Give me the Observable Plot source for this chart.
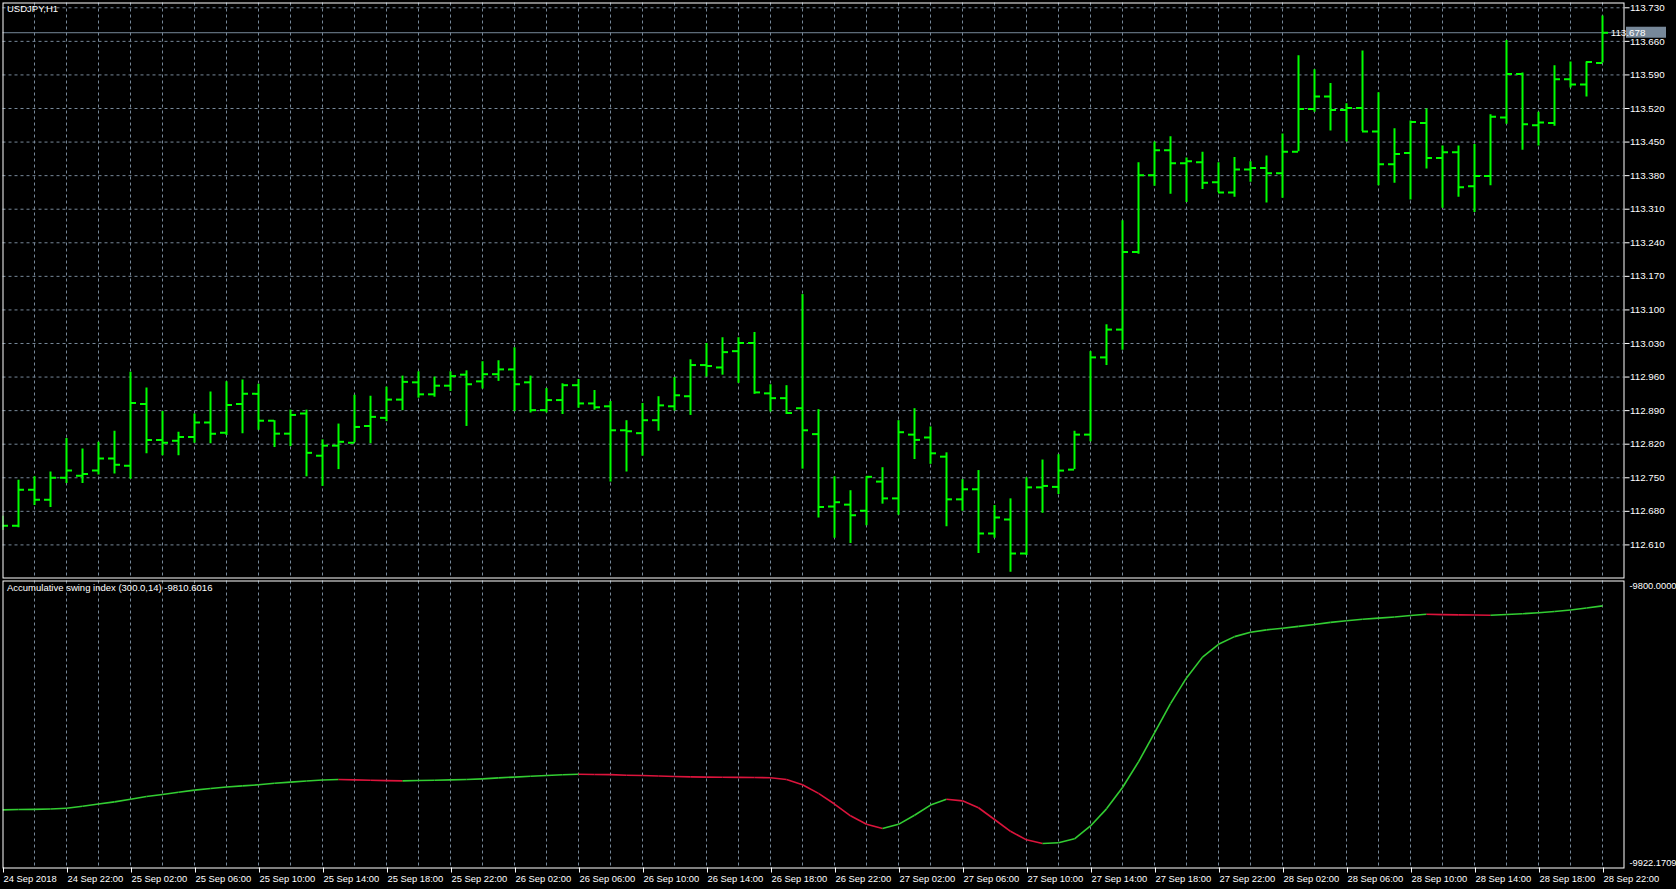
<!DOCTYPE html>
<html><head><meta charset="utf-8">
<script src="https://cdn.jsdelivr.net/npm/d3@7"></script>
<script src="https://cdn.jsdelivr.net/npm/@observablehq/plot@0.6"></script>
<style>
html,body{margin:0;padding:0;background:#000;overflow:hidden;}
#wrap{position:relative;width:1676px;height:889px;background:#000;}
#main{position:absolute;left:0;top:0;}
#ind{position:absolute;left:0;top:580px;}
</style></head><body><div id="wrap"><div id="main"></div><div id="ind"></div></div>
<script>
const symbolTitle = "USDJPY,H1";
const indicatorTitle = "Accumulative swing index (300.0,14) -9810.6016";

// hourly bars, 24 Sep 18:00 .. 28 Sep 22:00
const opens = [
112.655,112.650,112.725,112.704,112.750,112.754,112.765,112.790,112.775,112.904,
112.829,112.827,112.835,112.865,112.844,112.904,112.925,112.869,112.842,112.884,
112.796,112.817,112.823,112.858,112.875,112.913,112.949,112.924,112.942,112.965,
112.951,112.966,112.976,112.949,112.891,112.912,112.943,112.905,112.899,112.849,
112.843,112.870,112.899,112.920,112.985,112.980,113.014,113.031,112.926,112.916,
112.895,112.841,112.690,112.694,112.681,112.742,112.707,112.840,112.834,112.794,
112.705,112.726,112.634,112.663,112.592,112.730,112.731,112.767,112.840,113.001,
113.059,113.221,113.381,113.433,113.406,113.408,113.366,113.345,113.393,113.396,
113.385,113.430,113.519,113.545,113.517,113.521,113.472,113.404,113.427,113.490,
113.417,113.429,113.358,113.379,113.501,113.592,113.485,113.490,113.581,113.570,
113.615];
const highs = [
112.670,112.745,112.752,112.762,112.832,112.810,112.824,112.847,112.970,112.937,
112.888,112.845,112.883,112.929,112.950,112.954,112.945,112.869,112.891,112.891,
112.829,112.862,112.922,112.920,112.939,112.962,112.971,112.960,112.971,112.973,
112.992,112.994,113.021,112.962,112.936,112.946,112.955,112.932,112.909,112.869,
112.905,112.919,112.959,112.996,113.030,113.042,113.042,113.053,112.944,112.942,
113.132,112.892,112.752,112.723,112.752,112.771,112.869,112.894,112.856,112.802,
112.746,112.765,112.692,112.706,112.750,112.787,112.798,112.847,113.013,113.069,
113.286,113.407,113.450,113.461,113.417,113.429,113.407,113.418,113.409,113.421,
113.467,113.630,113.601,113.572,113.530,113.640,113.553,113.478,113.494,113.519,
113.442,113.442,113.445,113.507,113.662,113.594,113.512,113.609,113.617,113.617,
113.713];
const lows = [
112.640,112.646,112.692,112.688,112.738,112.738,112.756,112.758,112.747,112.800,
112.796,112.796,112.822,112.821,112.838,112.842,112.849,112.813,112.815,112.752,
112.732,112.767,112.823,112.821,112.867,112.890,112.916,112.918,112.930,112.857,
112.935,112.951,112.888,112.885,112.885,112.882,112.895,112.891,112.741,112.762,
112.795,112.847,112.889,112.880,112.960,112.964,112.947,112.924,112.887,112.882,
112.768,112.666,112.624,112.613,112.650,112.695,112.672,112.788,112.778,112.648,
112.680,112.592,112.624,112.553,112.588,112.676,112.715,112.767,112.825,112.984,
113.016,113.216,113.358,113.341,113.324,113.351,113.345,113.335,113.366,113.323,
113.333,113.430,113.512,113.473,113.450,113.472,113.359,113.364,113.329,113.394,
113.312,113.335,113.303,113.359,113.487,113.433,113.442,113.483,113.563,113.544,
113.615];
const closes = [
112.650,112.725,112.704,112.750,112.765,112.758,112.790,112.777,112.906,112.829,
112.823,112.835,112.865,112.842,112.902,112.925,112.869,112.842,112.881,112.802,
112.817,112.825,112.856,112.877,112.913,112.950,112.924,112.942,112.962,112.945,
112.966,112.976,112.945,112.891,112.912,112.943,112.905,112.897,112.849,112.847,
112.870,112.901,112.922,112.985,112.983,113.012,113.031,112.928,112.916,112.885,
112.849,112.689,112.699,112.672,112.752,112.707,112.845,112.829,112.801,112.705,
112.726,112.634,112.667,112.592,112.730,112.733,112.765,112.840,113.001,113.059,
113.221,113.381,113.433,113.406,113.410,113.365,113.345,113.393,113.396,113.385,
113.430,113.519,113.545,113.517,113.521,113.472,113.404,113.425,113.492,113.417,
113.429,113.356,113.379,113.503,113.592,113.487,113.491,113.581,113.570,113.617,
113.678];
const asi = [
-9897.44,-9897.30,-9897.21,-9897.03,-9896.76,-9895.85,-9894.94,-9894.03,-9892.89,-9891.76,
-9890.85,-9889.94,-9889.03,-9888.34,-9887.66,-9887.21,-9886.75,-9886.07,-9885.62,-9885.16,
-9884.71,-9884.48,-9884.66,-9884.84,-9884.98,-9885.07,-9884.93,-9884.80,-9884.66,-9884.48,
-9884.25,-9883.80,-9883.48,-9883.11,-9882.80,-9882.48,-9882.25,-9882.34,-9882.43,-9882.66,
-9882.80,-9883.02,-9883.21,-9883.39,-9883.48,-9883.57,-9883.61,-9883.66,-9883.75,-9884.48,
-9886.75,-9890.39,-9894.94,-9899.94,-9903.58,-9905.40,-9903.58,-9899.72,-9895.39,-9892.89,
-9893.58,-9896.53,-9901.53,-9906.54,-9910.18,-9911.77,-9911.45,-9909.72,-9904.26,-9896.99,
-9887.89,-9876.97,-9864.69,-9852.18,-9841.27,-9832.40,-9826.94,-9823.67,-9821.80,-9820.80,
-9820.12,-9819.30,-9818.53,-9817.62,-9816.93,-9816.25,-9815.80,-9815.34,-9814.71,-9814.16,
-9814.30,-9814.40,-9814.48,-9814.55,-9814.25,-9813.93,-9813.52,-9812.98,-9812.34,-9811.52,
-9810.6016];
const priceTicks = [112.610,112.680,112.750,112.820,112.890,112.960,113.030,113.100,113.170,
  113.240,113.310,113.380,113.450,113.520,113.590,113.660,113.730];
const timeTickBars = [0,4,8,12,16,20,24,28,32,36,40,44,48,52,56,60,64,68,72,76,80,84,88,92,96,100];
const timeLabels = ["24 Sep 2018","24 Sep 22:00","25 Sep 02:00","25 Sep 06:00","25 Sep 10:00",
  "25 Sep 14:00","25 Sep 18:00","25 Sep 22:00","26 Sep 02:00","26 Sep 06:00","26 Sep 10:00",
  "26 Sep 14:00","26 Sep 18:00","26 Sep 22:00","27 Sep 02:00","27 Sep 06:00","27 Sep 10:00",
  "27 Sep 14:00","27 Sep 18:00","27 Sep 22:00","28 Sep 02:00","28 Sep 06:00","28 Sep 10:00",
  "28 Sep 14:00","28 Sep 18:00","28 Sep 22:00"];
const bidPrice = 113.678;
const asiMax = -9800.0, asiMin = -9922.1709;
const priceMin = 112.5410, priceMax = 113.7400;

// styling / layout
const W = 1676, mL = 2.5, mR = 52.5, barStep = 16, barOrigin = 2;
const GRID = "#778899", LIME = "#00ff00", UP = "#32cd32", DN = "#dc143c";
const FONT = {background: "#000", color: "#fff", fontFamily: "'Liberation Sans', Arial, sans-serif", fontSize: "9.5px", overflow: "visible"};
const xDomain = [(mL - barOrigin) / barStep, (W - mR - barOrigin) / barStep];
const gridBars = d3.range(2, 101, 2);

const bars = opens.map((o, j) => ({j, o, h: highs[j], l: lows[j], c: closes[j]}));
const tickLen = 0.375;

const main = Plot.plot({
  width: W, height: 580, marginLeft: mL, marginRight: mR, marginTop: 2.5, marginBottom: 2.5,
  style: FONT,
  x: {domain: xDomain, axis: null},
  y: {domain: [priceMin, priceMax], axis: null},
  marks: [
    Plot.ruleY(priceTicks, {stroke: GRID, strokeDasharray: "3,3"}),
    Plot.ruleX(gridBars, {stroke: GRID, strokeDasharray: "3,3"}),
    Plot.ruleY([bidPrice], {stroke: GRID}),
    Plot.ruleX(bars, {x: "j", y1: "l", y2: "h", stroke: LIME, strokeWidth: 2, clip: true}),
    Plot.ruleY(bars, {y: "o", x1: d => d.j - tickLen, x2: d => d.j, stroke: LIME, strokeWidth: 2, clip: true}),
    Plot.ruleY(bars, {y: "c", x1: d => d.j, x2: d => d.j + tickLen, stroke: LIME, strokeWidth: 2, clip: true}),
    Plot.frame({stroke: "#fff"}),
    Plot.axisY(priceTicks, {anchor: "right", tickSize: 5, tickPadding: 1, fontSize: 9.8, tickFormat: d => d.toFixed(3)}),
    Plot.text([symbolTitle], {text: d => d, frameAnchor: "top-left", dx: 4, dy: 2.5, fontSize: 9.5, fill: "#fff"})
  ]
});
// bid price label box
{
  const by = main.scale("y").apply(bidPrice);
  const g = d3.select(main).append("g");
  g.append("rect").attr("x", W - mR + 2.5).attr("y", by - 5.5).attr("width", 40).attr("height", 11).attr("fill", GRID);
  g.append("text").attr("x", W - mR + 4.5).attr("y", by).attr("dy", "0.36em").attr("fill", "#fff")
    .attr("font-size", 9.8).text(bidPrice.toFixed(3));
}
document.getElementById("main").appendChild(main);

const segs = asi.slice(1).map((v, k) => ({x1: k, y1: asi[k], x2: k + 1, y2: v, col: v >= asi[k] ? UP : DN}));
const labelMap = new Map(timeTickBars.map((j, i) => [j, timeLabels[i]]));

const ind = Plot.plot({
  width: W, height: 309, marginLeft: mL, marginRight: mR, marginTop: 0.5, marginBottom: 21.5,
  style: FONT,
  x: {domain: xDomain, axis: null},
  y: {domain: [asiMin, asiMax], axis: null},
  marks: [
    Plot.ruleX(gridBars, {stroke: GRID, strokeDasharray: "3,3"}),
    Plot.link(segs, {x1: "x1", y1: "y1", x2: "x2", y2: "y2", stroke: "col", strokeWidth: 1.6, clip: true}),
    Plot.frame({stroke: "#fff"}),
    Plot.text([asiMax], {y: d => d, text: d => d.toFixed(4), frameAnchor: "right", textAnchor: "start", dx: 5.5, dy: 5, fontSize: 9.3, fill: "#fff"}),
    Plot.text([asiMin], {y: d => d, text: d => d.toFixed(4), frameAnchor: "right", textAnchor: "start", dx: 5.5, dy: -5, fontSize: 9.3, fill: "#fff"}),
    Plot.axisX(timeTickBars, {anchor: "bottom", tickSize: 5, tickPadding: 2, fontSize: 9.4, tickFormat: d => labelMap.get(d), textAnchor: "start", dx: 1}),
    Plot.text([indicatorTitle], {text: d => d, frameAnchor: "top-left", dx: 4, dy: 3.5, fontSize: 9.5, fill: "#fff"})
  ]
});
document.getElementById("ind").appendChild(ind);
</script>
</body></html>
